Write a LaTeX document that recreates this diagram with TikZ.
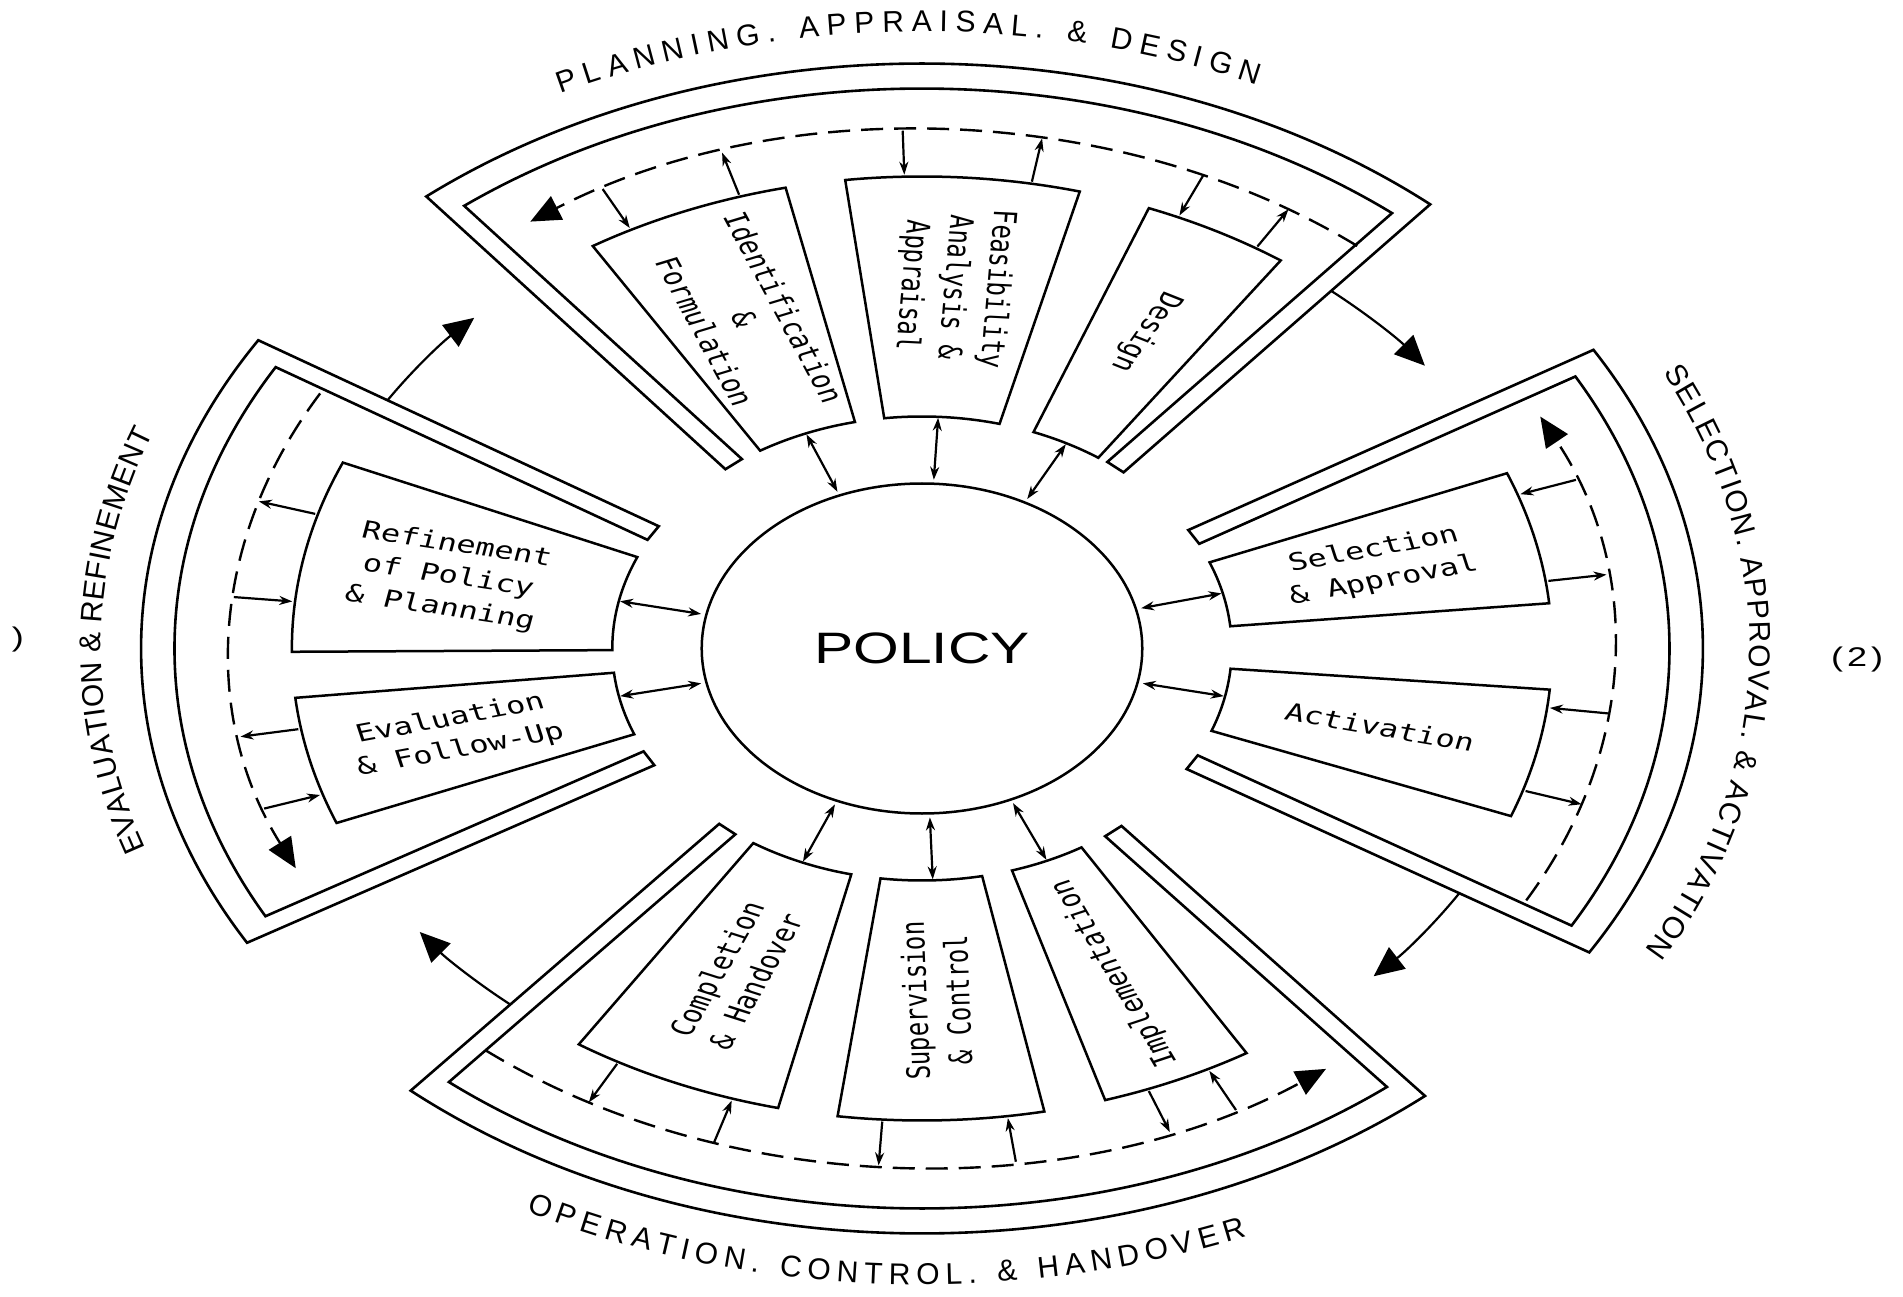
\documentclass[tikz,border=0pt]{standalone}
\usepackage{fontspec}
\setmainfont{Liberation Sans}
\newfontfamily\boxfont{DejaVu Sans Mono}
\usetikzlibrary{arrows.meta,calc,decorations.text}

\newcommand{\labelfont}{\fontsize{30}{30}\selectfont}

% band of one sector: #1 centre angle, #2 half width
\newcommand{\sectorband}[2]{%
  \begin{scope}[rotate=#1]
    \draw[bandline] (#2:232) -- (#2:585)
      arc[start angle=#2, end angle=-#2, radius=585]
      -- (-#2:232) -- ++({90-#2}:16)
      -- ({-#2+1.637}:560)
      arc[start angle={-#2+1.637}, end angle={#2-1.637}, radius=560]
      -- ($(#2:232)+({#2-90}:16)$) -- cycle;
  \end{scope}}

% one stage box between angles #1 and #2
\newcommand{\stagebox}[2]{%
  \draw[boxline] (#1:232) -- (#1:472) arc[start angle=#1, end angle=#2, radius=472]
    -- (#2:232) arc[start angle=#2, end angle=#1, radius=232] -- cycle;}

\newcommand{\toward}[2]{%
  \coordinate (#1-d) at (#2:518); \coordinate (#1-b) at (#2:474);
  \draw[small] (#1-d) -- (#1-b);}
\newcommand{\away}[2]{%
  \coordinate (#1-d) at (#2:518); \coordinate (#1-b) at (#2:474);
  \draw[small] (#1-b) -- (#1-d);}
\newcommand{\tocore}[2]{%
  \coordinate (#1-c) at (#2:169); \coordinate (#1-e) at (#2:231);
  \draw[dbl] (#1-c) -- (#1-e);}

\begin{document}
\begin{tikzpicture}[x=1pt,y=1pt,
  bandline/.style={line width=2.6pt, line join=miter},
  boxline/.style={line width=2.5pt},
  flowdash/.style={line width=2.4pt, dash pattern=on 22pt off 11pt,
    -{Triangle[length=30pt,width=26pt]}},
  linkarrow/.style={line width=2.2pt, -{Triangle[length=30pt,width=27pt]}},
  small/.style={line width=2.2pt, -{Stealth[length=13pt,width=9pt]}},
  dbl/.style={line width=2.2pt, {Stealth[length=13pt,width=9pt]}-{Stealth[length=13pt,width=9pt]}},
  boxtext/.style={font=\boxfont\fontsize{24}{32}\selectfont, align=center,
    transform shape, inner sep=0pt},
  sidetext/.style={font=\fontsize{27}{27}\selectfont, transform shape, inner sep=0pt}]
\useasboundingbox (-922,-647.5) rectangle (981,648.5);

\begin{scope}[xscale=1.335]
  % centre
  \node[circle, draw, line width=2.5pt, minimum size=330pt, inner sep=0pt,
        transform shape, font=\fontsize{44}{44}\selectfont] (policy) at (0,0) {POLICY};

  % sector bands
  \sectorband{89.4}{40}
  \sectorband{-0.3}{31}
  \sectorband{179.2}{31}
  \sectorband{269.6}{40.5}

  % stage boxes
  \stagebox{102.5}{121.5}
  \stagebox{75.5}{97}
  \stagebox{55.3}{68.9}
  \stagebox{5.5}{21.8}
  \stagebox{-20.8}{-5}
  \stagebox{237}{256.8}
  \stagebox{262.3}{281.2}
  \stagebox{286.9}{301}
  \stagebox{156.8}{180.4}
  \stagebox{186}{201.7}

  % box texts
  \node[boxtext, rotate=-68] (ident) at (112:355) {Identification\\\&\\Formulation};
  \node[boxtext, rotate=-93.75] (feas) at (86.25:362) {Feasibility\\Analysis \&\\Appraisal};
  \node[boxtext, rotate=-117.9] (design) at (62.1:358) {Design};
  \node[boxtext, rotate=13.65] (select) at (13.65:352) {Selection\\\& Approval};
  \node[boxtext, rotate=-12.9] (activ) at (-12.9:352) {Activation};
  \node[boxtext, rotate=66.9] (compl) at (246.9:355) {Completion\\\& Handover};
  \node[boxtext, rotate=91.75] (superv) at (271.75:352) {Supervision\\\& Control};
  \node[boxtext, rotate=113.95] (implem) at (293.95:355) {Implementation};
  \node[boxtext, rotate=-11.4] (refine) at (168.6:362) {Refinement\\of Policy\\\& Planning};
  \node[boxtext, rotate=13.85] (evalu) at (193.85:360) {Evaluation\\\& Follow-Up};

  % dashed flows inside sectors
  \draw[flowdash] (51:518) arc[start angle=51, end angle=124.5, radius=518];
  \draw[flowdash] (-29.1:518) arc[start angle=-29.1, end angle=26.6, radius=518];
  \draw[flowdash] (230.8:518) arc[start angle=230.8, end angle=305.75, radius=518];
  \draw[flowdash] (150.5:518) arc[start angle=150.5, end angle=205.1, radius=518];

  % links between sectors
  \coordinate (l1) at (49.4:471);  \draw[linkarrow] (l1) arc[start angle=49.4, end angle=36.9, radius=471];
  \coordinate (l2) at (-31.3:471); \draw[linkarrow] (l2) arc[start angle=-31.3, end angle=-44.1, radius=471];
  \coordinate (l3) at (229.1:471); \draw[linkarrow] (l3) arc[start angle=229.1, end angle=217, radius=471];
  \coordinate (l4) at (148.2:471); \draw[linkarrow] (l4) arc[start angle=148.2, end angle=135.4, radius=471];

  % box <-> dashed flow
  \toward{identin}{117.5}  \away{identout}{106.8}
  \toward{feasin}{91.6}    \away{feasout}{80}
  \toward{desin}{66}       \away{desout}{58}
  \toward{selin}{19}       \away{selout}{8.2}
  \toward{actin}{-7.2}     \away{actout}{-17.5}
  \toward{comin}{252.5}    \away{comout}{241.2}
  \toward{supin}{277.8}    \away{supout}{266.4}
  \toward{impin}{297}      \away{impout}{291}
  \toward{refin}{174.3}    \away{refout}{163.5}
  \toward{evin}{198}       \away{evout}{189.8}

  % box <-> policy
  \tocore{c1}{112} \tocore{c2}{87} \tocore{c3}{62.2}
  \tocore{c4}{13.8} \tocore{c5}{-11.9}
  \tocore{c6}{247.3} \tocore{c7}{272} \tocore{c8}{293.8}
  \tocore{c9}{168.2} \tocore{c10}{191.9}

  % stray marks
  \node[sidetext] (lparen) at (-677.2,8.5) {)};
  \node[sidetext] (two) at (700.4,-11.5) {(\kern3pt2\kern3pt)};
\end{scope}

% curved sector titles
\path[decorate, decoration={text along path,
   text={|\labelfont|PLANNING. APPRAISAL. {\&} DESIGN}, text align={fit to path}}]
   (116:823.7 and 617) arc[start angle=116, end angle=66, x radius=823.7, y radius=617];
\path[decorate, decoration={text along path,
   text={|\labelfont|SELECTION. APPROVAL. {\&} ACTIVATION}, text align={fit to path}}]
   (26.4:827.7 and 620) arc[start angle=26.4, end angle=-29.1, x radius=827.7, y radius=620];
\path[decorate, decoration={text along path,
   text={|\labelfont|OPERATION. CONTROL. {\&} HANDOVER}, text align={fit to path}}]
   (242.2:849 and 636) arc[start angle=242.2, end angle=292.5, x radius=849, y radius=636];
\path[decorate, decoration={text along path,
   text={|\labelfont|EVALUATION {\&} REFINEMENT}, text align={fit to path}}]
   (199:821 and 615) arc[start angle=199, end angle=159.5, x radius=821, y radius=615];
\end{tikzpicture}
\end{document}
